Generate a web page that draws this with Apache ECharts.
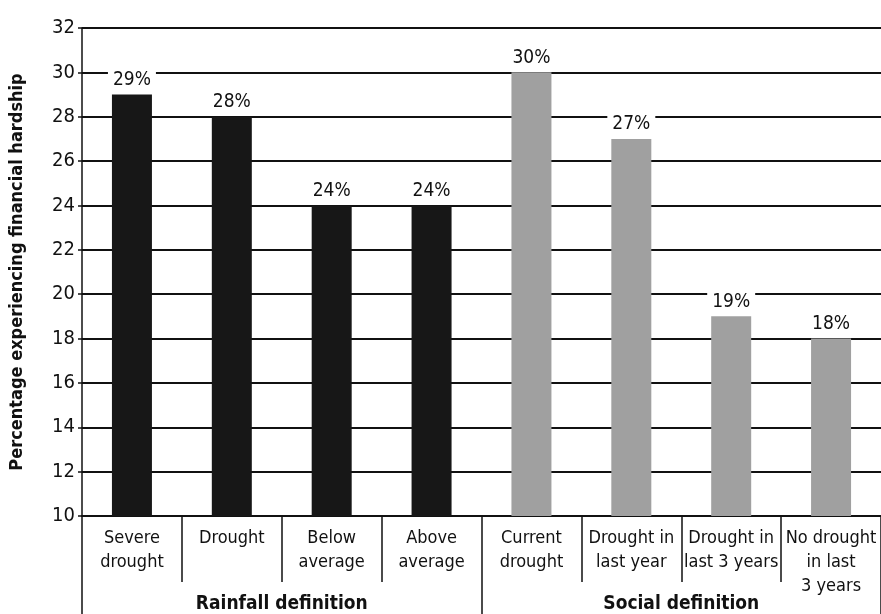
<!DOCTYPE html>
<html>
<head>
<meta charset="utf-8">
<script src="https://cdn.jsdelivr.net/npm/echarts@6/dist/echarts.min.js"></script>
<style>
html,body{margin:0;padding:0;background:#fff;}
#c{width:881px;height:614px;}
</style>
</head>
<body>
<div id="c"></div>
<script>
const categories = ['Severe\ndrought', 'Drought', 'Below\naverage', 'Above\naverage',
  'Current\ndrought', 'Drought in\nlast year', 'Drought in\nlast 3 years', 'No drought\nin last\n3 years'];
const values = [29, 28, 24, 24, 30, 27, 19, 18];
const groupOf = [0, 0, 0, 0, 1, 1, 1, 1];
const groups = ['Rainfall definition', 'Social definition'];
const yTicks = { min: 10, max: 32, interval: 2 };
const yName = 'Percentage experiencing financial hardship';

const FONT = "'Liberation Sans Narrow', 'DejaVu Sans Condensed', 'Noto Sans', sans-serif";
const groupColors = ['#171717', '#a0a0a0'];

const chart = echarts.init(document.getElementById('c'));
chart.setOption({
  backgroundColor: '#fff',
  animation: false,
  textStyle: { fontFamily: FONT, color: '#111' },
  grid: { left: 80, right: 0, top: 28, bottom: 96, containLabel: false },
  xAxis: [
    {
      type: 'category',
      data: categories,
      position: 'bottom',
      axisLine: { show: true, lineStyle: { color: '#111', width: 2 } },
      axisTick: { show: true, interval: 0, length: 66, lineStyle: { color: '#111', width: 1.5 } },
      axisLabel: { interval: 0, margin: 10, fontSize: 18, lineHeight: 24, color: '#111', fontFamily: FONT, verticalAlign: 'top' }
    },
    {
      type: 'category',
      data: groups,
      position: 'bottom',
      axisLine: { show: false },
      axisTick: { show: true, interval: 0, length: 98, lineStyle: { color: '#111', width: 1.5 } },
      axisLabel: { interval: 0, margin: 79, fontSize: 19, fontWeight: 'bold', color: '#111', fontFamily: FONT, verticalAlign: 'top' }
    }
  ],
  yAxis: {
    type: 'value',
    min: yTicks.min, max: yTicks.max, interval: yTicks.interval,
    name: yName,
    nameLocation: 'middle',
    nameGap: 56,
    nameTextStyle: { fontSize: 18, fontWeight: 'bold', color: '#111', fontFamily: FONT },
    axisLine: { show: true, lineStyle: { color: '#111', width: 1.5 } },
    axisTick: { show: true, length: 4, lineStyle: { color: '#111', width: 1.5 } },
    axisLabel: { fontSize: 20, color: '#111', margin: 7, fontFamily: FONT },
    splitLine: { show: true, lineStyle: { color: '#111', width: 2 } }
  },
  series: [{
    type: 'bar',
    xAxisIndex: 0,
    barWidth: 40,
    data: values.map((v, i) => ({ value: v, itemStyle: { color: groupColors[groupOf[i]] } })),
    label: {
      show: true,
      position: 'top',
      distance: 4,
      formatter: p => Math.round(p.value) + '%',
      fontSize: 19,
      color: '#111',
      fontFamily: FONT,
      backgroundColor: '#fff',
      padding: [1, 5]
    }
  }]
});
</script>
</body>
</html>
